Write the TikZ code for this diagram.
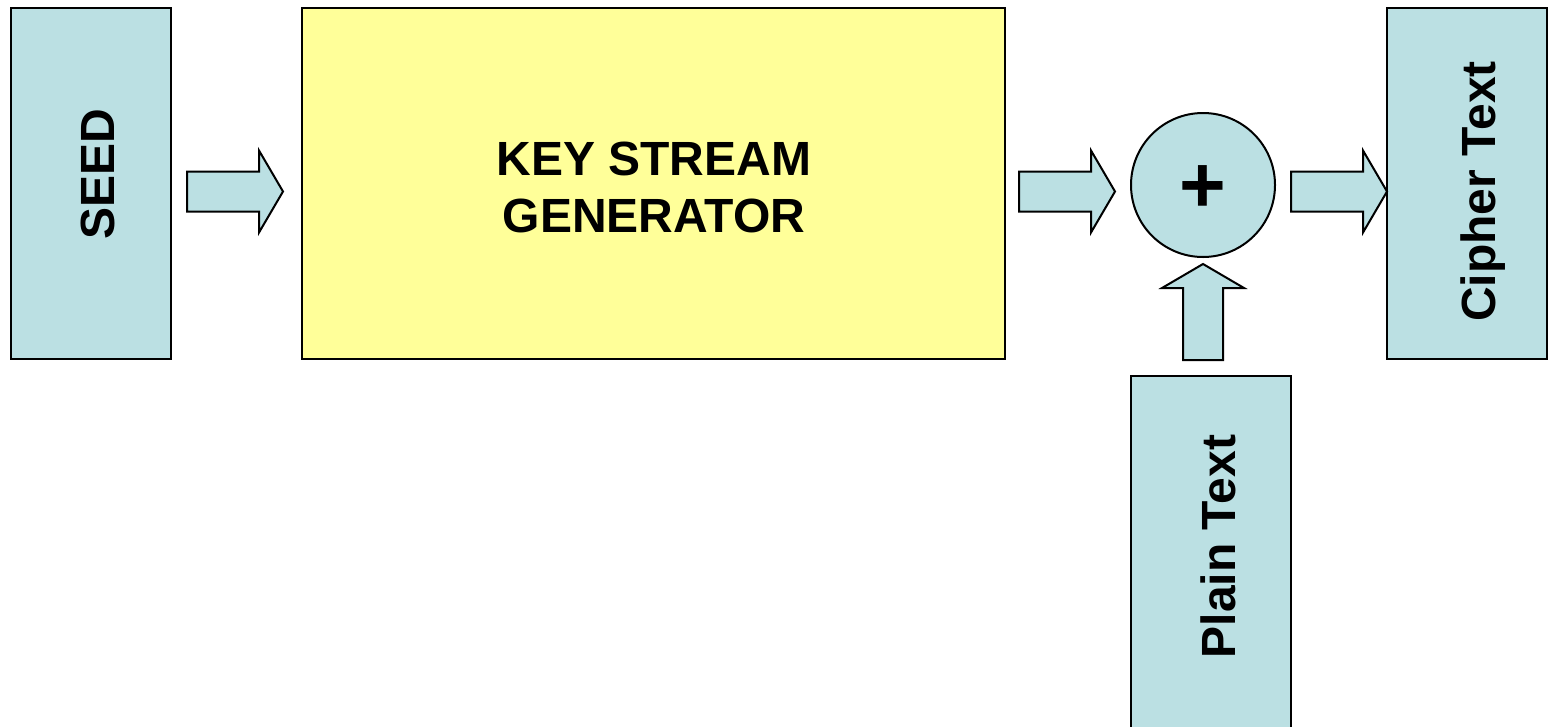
\documentclass[tikz,border=0pt]{standalone}
\usepackage{fontspec}
\setmainfont{Liberation Sans}
\begin{document}
\begin{tikzpicture}[x=1pt,y=-1pt,
  cbox/.style={draw=black,line width=2pt,fill=cyanfill,inner sep=0pt},
  blk/.style={draw=black,line width=2pt,fill=cyanfill,line join=miter},
  lbl/.style={font=\fontsize{48}{57}\selectfont\bfseries,inner sep=0pt},
  rarrow/.pic={\path[blk] (0,-20) -- (72,-20) -- (72,-41) -- (96,0) -- (72,41) -- (72,20) -- (0,20) -- cycle;},
  uarrow/.pic={\path[blk] (-20,0) -- (-20,-72) -- (-41,-72) -- (0,-96) -- (41,-72) -- (20,-72) -- (20,0) -- cycle;}
]
\definecolor{cyanfill}{HTML}{BBE0E3}
\definecolor{yellowfill}{HTML}{FFFF99}
\useasboundingbox (0,0) rectangle (1552,726);
\clip (0,0) rectangle (1552,726);
\node[cbox,minimum width=160pt,minimum height=351pt] (seed) at (91,183.5) {};
\node[lbl,rotate=90] (seedtxt) at (98,174) {SEED};
\node[draw=black,line width=1.5pt,fill=yellowfill,minimum width=703pt,minimum height=351pt] (ksg) at (653.5,183.5) {};
\node[lbl,align=center] (ksgtxt) at (654,187) {KEY STREAM\\GENERATOR};
\node[cbox,circle,minimum size=144pt] (xor) at (1203,185) {};
\node[font=\fontsize{80}{80}\selectfont\bfseries,inner sep=0pt] (plus) at (1203,189) {+};
\node[cbox,minimum width=160pt,minimum height=351pt] (cipher) at (1467,183.5) {};
\node[lbl,rotate=90] (ciphertxt) at (1483,191.5) {Cipher Text};
\node[cbox,minimum width=160pt,minimum height=380pt] (plain) at (1211,566) {};
\node[lbl,rotate=90] (plaintxt) at (1218,546.5) {Plain Text};
\pic (a1) at (187,191.5) {rarrow};
\pic (a2) at (1019,191.5) {rarrow};
\pic (a3) at (1291,191.5) {rarrow};
\pic (a4) at (1203,360) {uarrow};
\end{tikzpicture}
\end{document}
